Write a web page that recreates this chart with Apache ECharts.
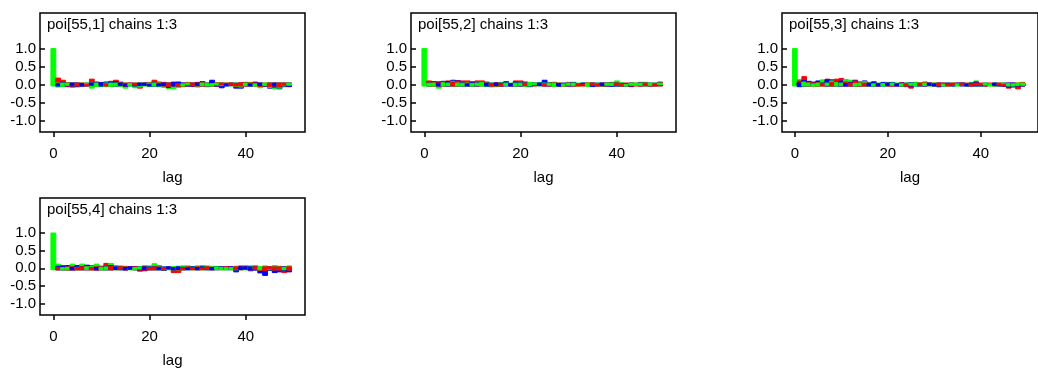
<!DOCTYPE html>
<html>
<head>
<meta charset="utf-8">
<script src="https://cdn.jsdelivr.net/npm/echarts@6/dist/echarts.min.js"></script>
<style>
  html, body { margin: 0; padding: 0; background: #fff; }
  #chart { width: 1038px; height: 369px; }
</style>
</head>
<body>
<div id="chart"></div>
<script>
// Autocorrelation by lag for three MCMC chains of each poi[55,k] node.
const lags = [0,1,2,3,4,5,6,7,8,9,10,11,12,13,14,15,16,17,18,19,20,21,22,23,24,25,26,27,28,29,30,31,32,33,34,35,36,37,38,39,40,41,42,43,44,45,46,47,48,49];

const panelTitles = ['poi[55,1] chains 1:3', 'poi[55,2] chains 1:3', 'poi[55,3] chains 1:3', 'poi[55,4] chains 1:3'];
const chainColors = ['#0000ff', '#ff0000', '#00ff00'];
const yTicks = [-1.0, -0.5, 0.0, 0.5, 1.0];
const xTicks = [0, 20, 40];

// poi[55,1]
const p1_chain1 = [1,0.02,0.06,-0.06,-0.04,-0.05,0.03,0.04,-0.02,0.06,0.05,0.07,0.07,0.08,-0.03,0.01,-0.04,0.03,-0.03,-0.02,0.01,0.05,0.02,-0.03,-0.08,0.05,0.07,-0.02,0.02,-0.05,-0.02,0.08,-0.04,0.12,-0.05,-0.09,0.01,-0.03,-0.1,-0.1,0.06,0.02,-0.03,-0.03,0.03,-0.1,0.04,-0.12,-0.06,-0.05];
const p1_chain2 = [1,0.18,0.12,0.05,-0.06,-0.04,0.04,0.01,0.15,0.07,0.06,0.02,0.09,0.12,0.07,-0.05,-0.03,-0.02,-0.1,-0.03,0.06,0.12,0.07,0.06,-0.05,0.07,0.02,-0.06,0.06,-0.04,0.06,0.05,-0.06,0.03,0.05,-0.01,-0.02,-0.02,0.03,0.05,0.05,0.06,0.07,-0.05,-0.05,-0.06,-0.08,-0.07,-0.02,-0.06];
const p1_chain3 = [1,-0.07,-0.05,-0.02,-0.08,-0.07,-0.06,-0.03,-0.1,-0.05,-0.06,-0.06,-0.05,-0.04,-0.05,-0.1,0.03,-0.09,-0.07,-0.04,-0.06,-0.04,-0.06,-0.08,-0.11,-0.12,-0.08,0.02,-0.01,-0.06,-0.07,-0.03,0.04,0.02,-0.01,-0.03,-0.03,-0.04,-0.06,-0.07,-0.03,-0.04,0.02,-0.09,-0.03,-0.08,-0.12,-0.1,-0.04,-0.02];

// poi[55,2]
const p2_chain1 = [1,-0.04,0.08,-0.04,0.09,0.08,0.12,0.11,0.06,0.02,0.05,0.05,0.1,0.04,-0.06,-0.03,0.04,0.08,0.02,0.07,0.05,0.07,-0.06,-0.02,-0.03,0.12,0.05,0.06,0.03,-0.04,0.04,0.06,0.04,-0.02,-0.05,-0.05,0.04,-0.03,0.04,-0.05,0.04,-0.05,0.03,0.04,0.04,0.06,0.06,0.04,-0.04,-0.03];
const p2_chain2 = [1,0.1,0.06,0.08,0.07,0.1,0.07,0.1,0.1,0.1,0.08,0.1,0.1,0.07,0.03,0.05,0.02,-0.03,0.03,0.1,0.1,-0.03,0.06,0.04,0.06,0.02,0.04,0.05,0.04,0.03,0.06,0.03,0.02,0.01,0.05,-0.02,0.02,0.04,0.05,0.06,-0.02,0.03,-0.04,-0.06,0.04,0.04,-0.03,0.03,0.02,0.07];
const p2_chain3 = [1,0.04,-0.04,-0.1,0.05,-0.03,0.09,-0.04,0.04,-0.04,0.03,-0.03,0.06,-0.05,0.04,-0.06,0.06,-0.03,-0.04,0.04,-0.03,-0.05,0.06,-0.01,0.06,-0.03,-0.02,-0.05,-0.06,0.01,-0.02,-0.03,0.04,-0.03,-0.05,-0.06,-0.03,-0.05,-0.02,-0.03,0.1,0.05,0.01,-0.02,-0.03,-0.02,0.05,-0.02,0.04,-0.01];

// poi[55,3]
const p3_chain1 = [1,-0.06,0.11,0.09,-0.03,0.1,-0.03,0.13,0.13,0.07,0.1,0.03,0.06,0.12,0.07,0.1,0.04,0.06,0.02,0.06,-0.03,0.06,0.02,0.04,-0.06,0.05,0.06,0.03,0.03,-0.02,0.02,-0.05,0.04,-0.03,0.03,-0.02,0.05,0.02,-0.04,0.07,0.02,-0.04,0.02,-0.03,0.03,-0.05,-0.07,-0.06,0.03,0.02];
const p3_chain2 = [1,0.1,0.22,0.05,0.07,0.05,0.03,0.15,0.06,0.15,0.17,0.07,0.04,0.1,0.05,0.04,0.06,0.08,0.03,0.03,0.04,0.03,0.03,0.05,0.02,-0.1,0.05,-0.03,0.07,-0.03,0.04,-0.04,-0.02,0.02,-0.02,-0.03,-0.02,-0.04,0.02,-0.02,-0.02,0.03,-0.03,-0.04,-0.02,0.01,-0.1,-0.07,-0.12,0.06];
const p3_chain3 = [1,0.14,0.07,-0.04,0.02,0.04,0.13,-0.03,0.1,0.06,-0.03,0.14,0.12,0.03,-0.03,0.08,0.05,0.02,-0.04,0.03,0.06,-0.02,-0.03,0.02,-0.04,-0.02,0.05,0.05,-0.03,0.04,-0.04,-0.07,0.01,0.04,-0.04,0.02,-0.03,0.03,0.06,0.1,0.03,-0.01,0.02,0.04,0.04,-0.02,0.03,0.02,-0.03,-0.02];

// poi[55,4]
const p4_chain1 = [1,0.06,0.05,0.08,0.03,0.08,0.05,0.09,0.07,0.02,0.06,0.05,0.08,-0.03,0.04,0.02,-0.02,0.05,0.05,0.04,0.04,-0.04,0.03,-0.06,-0.02,0.02,-0.03,0.03,0.01,-0.03,0.02,-0.02,0.03,0.02,0.05,-0.03,-0.04,-0.02,-0.1,-0.03,-0.02,-0.05,-0.05,-0.13,-0.2,-0.06,-0.12,-0.1,-0.07,-0.1];
const p4_chain2 = [1,0.02,0.08,-0.05,-0.05,0.02,-0.04,0.05,0.02,-0.05,-0.04,0.14,0.06,0.07,-0.03,-0.05,-0.03,-0.04,-0.08,-0.07,0.02,0.04,0.07,0.02,-0.03,-0.12,-0.12,0.02,-0.03,0.02,-0.04,0.01,-0.03,0.03,-0.03,-0.04,-0.02,-0.04,-0.03,0.05,-0.03,-0.07,-0.03,-0.06,-0.06,-0.02,-0.05,-0.05,-0.12,-0.05];
const p4_chain3 = [1,0.12,0.02,0.03,0.12,0.03,0.12,-0.03,0.05,0.12,0.03,0.04,0.14,0.06,0.07,0.06,0.04,0.02,-0.02,0.08,0.07,0.13,0.04,0.03,0.03,0.05,0.06,0.07,0.07,0.05,0.07,0.08,0.07,0.06,-0.03,0.03,0.02,0.02,0.06,0.08,0.08,0.07,0.08,0.05,0.07,0.03,0.08,0.06,0.03,0.07];

const panelChains = [
  [p1_chain1, p1_chain2, p1_chain3],
  [p2_chain1, p2_chain2, p2_chain3],
  [p3_chain1, p3_chain2, p3_chain3],
  [p4_chain1, p4_chain2, p4_chain3]
];

const FONT = '"Liberation Sans", Arial, Helvetica, sans-serif';
const gridLeft = [40, 411, 782, 40];
const gridTop = [13, 13, 13, 198];
const gridW = 265, gridH = 119;
const BASE_OVERHANG = 1.5; // bars run slightly past the zero line

// Each lag shows the three chains overlaid; the longest bar goes underneath
// so every chain stays visible. A bar fully hidden by an identical later one
// is skipped.
function renderLag(params, api) {
  const lag = api.value(0);
  const vals = [api.value(1), api.value(2), api.value(3)];
  const w = api.size([1, 0])[0];
  const order = [0, 1, 2].sort((a, b) => (Math.abs(vals[b]) - Math.abs(vals[a])) || (a - b));
  const base = api.coord([lag, 0]);
  const children = [];
  order.forEach((i, pos) => {
    const hidden = order.slice(pos + 1).some(j => vals[j] === vals[i]);
    if (hidden) return;
    const top = api.coord([lag, vals[i]]);
    const up = top[1] <= base[1];
    const y0 = up ? top[1] : base[1] - BASE_OVERHANG;
    const y1 = up ? base[1] + BASE_OVERHANG : top[1];
    children.push({
      type: 'rect',
      shape: { x: base[0] - w / 2, y: y0, width: w, height: y1 - y0 },
      style: { fill: chainColors[i], stroke: chainColors[i], lineWidth: 1 }
    });
  });
  return { type: 'group', children };
}

const grids = [], xAxes = [], yAxes = [], series = [], titles = [];
panelChains.forEach((chains, k) => {
  grids.push({
    left: gridLeft[k], top: gridTop[k], width: gridW, height: gridH,
    show: true, borderColor: '#000', borderWidth: 1.5, backgroundColor: 'transparent'
  });
  xAxes.push({
    type: 'value', gridIndex: k, min: -2.77, max: 52.3,
    name: 'lag', nameLocation: 'middle', nameGap: 38,
    nameTextStyle: { fontSize: 15, color: '#000', fontFamily: FONT },
    axisLine: { show: false, onZero: false },
    axisTick: { show: true, length: 5, customValues: xTicks, lineStyle: { color: '#000', width: 1.5 } },
    axisLabel: { customValues: xTicks, fontSize: 15, color: '#000', fontFamily: FONT, margin: 14 },
    splitLine: { show: false }
  });
  yAxes.push({
    type: 'value', gridIndex: k, min: -1.32, max: 1.99,
    axisLine: { show: false, onZero: false },
    axisTick: { show: true, inside: true, length: 5, customValues: yTicks, lineStyle: { color: '#000', width: 1.5 } },
    axisLabel: {
      customValues: yTicks, fontSize: 15, color: '#000', fontFamily: FONT, margin: 4,
      formatter: v => v.toFixed(1)
    },
    splitLine: { show: false }
  });
  series.push({
    type: 'custom', xAxisIndex: k, yAxisIndex: k,
    renderItem: renderLag,
    encode: { x: 0, y: [1, 2, 3] },
    data: lags.map((l, i) => [l, chains[0][i], chains[1][i], chains[2][i]]),
    silent: true, animation: false
  });
  titles.push({
    text: panelTitles[k], left: gridLeft[k] + 7, top: gridTop[k] + 4, padding: 0,
    textStyle: { fontSize: 15, fontWeight: 'normal', color: '#000', fontFamily: FONT }
  });
});

const chart = echarts.init(document.getElementById('chart'), null, { renderer: 'canvas' });
chart.setOption({
  backgroundColor: '#fff',
  animation: false,
  title: titles,
  grid: grids,
  xAxis: xAxes,
  yAxis: yAxes,
  series: series
});
</script>
</body>
</html>
